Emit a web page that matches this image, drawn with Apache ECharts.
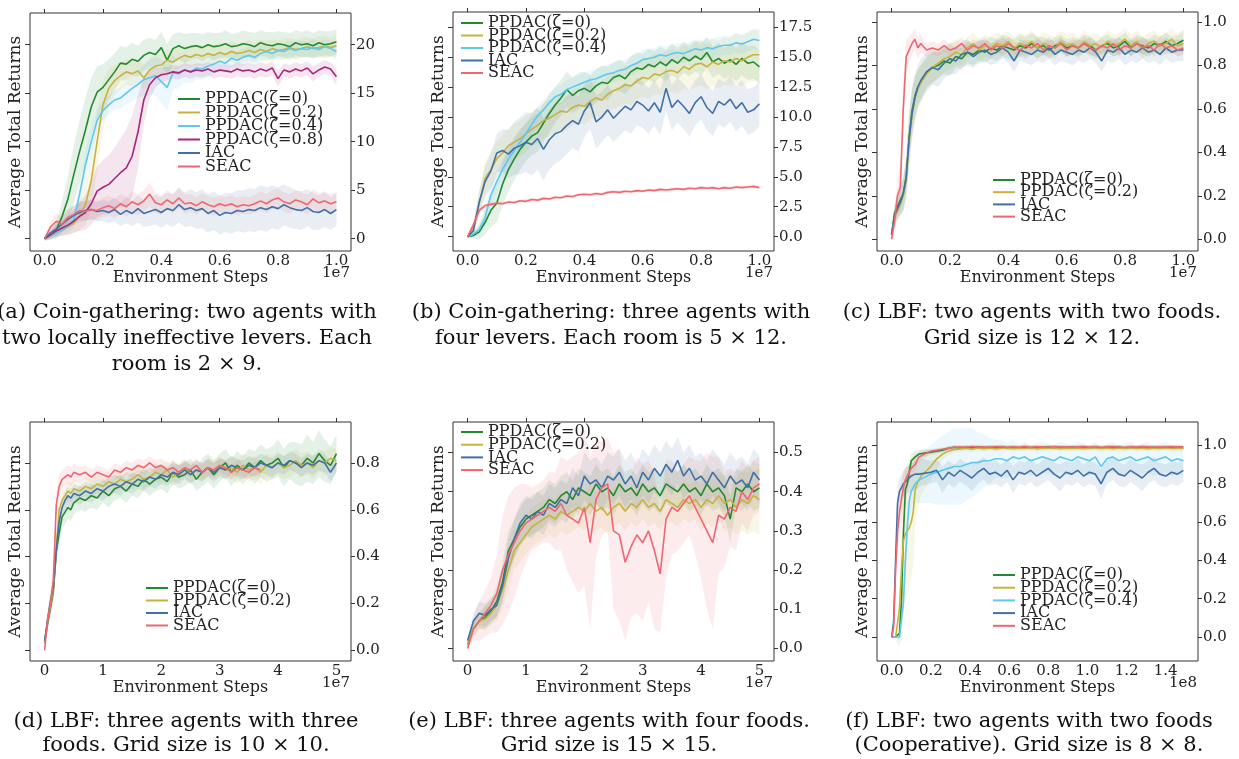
<!DOCTYPE html>
<html><head><meta charset="utf-8">
<script src="https://cdn.jsdelivr.net/npm/echarts@6/dist/echarts.min.js"></script>
<style>html,body{margin:0;padding:0;background:#fff}#c{width:1239px;height:759px}</style>
</head><body><div id="c"></div>
<script>
// ---------- names, colours ----------
const N0 = 'PPDAC(ζ=0)', N2 = 'PPDAC(ζ=0.2)', N4 = 'PPDAC(ζ=0.4)', N8 = 'PPDAC(ζ=0.8)', NI = 'IAC', NS = 'SEAC';
const COLORS = {};
COLORS[N0] = '#228a2e'; COLORS[N2] = '#c7b23d'; COLORS[N4] = '#5fc8ee';
COLORS[N8] = '#a5287b'; COLORS[NI] = '#3f70a8'; COLORS[NS] = '#f0656f';

// ---------- x sample positions (environment steps, in axis units) ----------
function range(start, step, n) { const r = []; for (let i = 0; i < n; i++) r.push(+(start + i * step).toFixed(4)); return r; }
const xA = range(0, 0.02, 51);
const xB = range(0, 0.02, 51);
const xC = range(0, 0.01, 11).concat(range(0.12, 0.02, 45));
const xD = range(0, 0.05, 11).concat(range(0.6, 0.1, 45));
const xE = range(0, 0.1, 51);
const xF = range(0, 0.01, 16).concat(range(0.2, 0.03, 44));

// ---------- tick labels ----------
const xTicks01 = [0, 0.2, 0.4, 0.6, 0.8, 1.0];
const xTicks05 = [0, 1, 2, 3, 4, 5];
const xTicksF = [0, 0.2, 0.4, 0.6, 0.8, 1.0, 1.2, 1.4];
const yTicksA = [0, 5, 10, 15, 20];
const yTicksB = [0, 2.5, 5, 7.5, 10, 12.5, 15, 17.5];
const yTicksC = [0, 0.2, 0.4, 0.6, 0.8, 1.0];
const yTicksD = [0, 0.2, 0.4, 0.6, 0.8];
const yTicksE = [0, 0.1, 0.2, 0.3, 0.4, 0.5];
const yTicksF = [0, 0.2, 0.4, 0.6, 0.8, 1.0];

// ---------- panel (a) ----------
const aG = [0,0.3,0.9,2.3,4.1, 6.6,9.0,11.2,13.6,15.1, 15.6,16.4,17.2,18.1,18.0, 18.5,18.3,18.9,19.2,19.0, 19.7,18.4,19.6,19.9,19.6, 19.8,19.9,19.7,20.0,19.8, 19.9,20.1,19.8,19.9,20.1, 20.0,19.8,20.2,20.0,19.9, 20.1,20.0,19.8,20.2,20.0, 20.1,19.9,20.2,20.0,20.1, 20.3];
const aGs = [0.2,0.4,0.9,1.6,2.4, 3.0,3.2,3.3,3.0,2.7, 2.4,2.1,1.9,1.8,1.7, 1.7,1.6,1.6,1.5,1.5, 1.6,1.7,1.5,1.4,1.5, 1.4,1.3,1.4,1.3,1.4, 1.3,1.4,1.3,1.3,1.4, 1.3,1.4,1.3,1.3,1.4, 1.3,1.3,1.4,1.3,1.3, 1.4,1.3,1.3,1.4,1.3, 1.3];
const aY = [0,0.3,0.6,0.9,1.2, 1.6,2.4,3.5,6.0,10.0, 13.8,15.5,16.3,16.8,17.2, 17.0,17.3,16.6,17.4,17.8, 17.9,18.4,18.2,18.6,18.9, 18.7,19.0,18.8,19.1,18.9, 19.2,19.0,19.3,19.1,19.2, 19.4,19.2,19.5,19.3,19.6, 19.4,19.5,19.7,19.5,19.6, 19.8,19.6,19.7,19.9,19.7, 19.9];
const aYs = [0.2,0.4,0.5,0.6,0.8, 1.0,1.5,2.2,2.8,3.0, 2.6,2.0,1.6,1.4,1.3, 1.3,1.2,1.3,1.2,1.1, 1.1,1.1,1.0,1.1,1.0, 1.0,1.1,1.0,1.0,1.1, 1.0,1.0,1.1,1.0,1.0, 1.1,1.0,1.0,1.1,1.0, 1.0,1.1,1.0,1.0,1.1, 1.0,1.0,1.1,1.0,1.0, 1.1];
const aL = [0,0.3,0.6,0.9,1.3, 1.9,4.6,7.6,10.0,12.2, 13.2,13.8,14.3,14.5,15.0, 15.5,15.9,16.4,16.6,16.8, 16.2,15.6,17.1,17.0,17.4, 17.2,17.6,17.5,17.8,18.0, 18.3,18.1,18.6,18.4,18.7, 18.9,18.7,19.1,19.3,19.1, 19.4,19.3,19.6,19.4,19.6, 19.5,19.7,19.5,19.8,19.6, 19.3];
const aLs = [0.2,0.3,0.4,0.5,0.6, 0.8,1.2,1.5,1.5,1.2, 1.0,1.0,1.0,1.1,1.2, 1.3,1.4,1.6,1.8,2.0, 2.2,2.4,1.8,1.5,1.3, 1.2,1.2,1.1,1.1,1.0, 1.0,1.0,0.9,0.9,0.9, 0.9,0.9,0.8,0.8,0.8, 0.8,0.8,0.8,0.9,0.8, 0.8,0.9,0.8,0.8,0.8, 0.9];
const aP = [0,0.4,0.8,1.1,1.4, 1.8,2.3,2.7,3.6,4.9, 5.3,5.6,6.2,6.8,7.3, 8.5,11.0,14.3,15.9,16.6, 16.9,17.0,17.2,17.1,17.4, 17.2,17.4,17.3,17.5,17.2, 17.4,17.3,17.2,17.5,17.3, 17.4,17.2,17.5,17.3,17.6, 16.5,17.4,17.2,17.5,17.3, 17.6,17.0,17.4,17.7,17.5, 16.7];
const aPs = [0.2,0.4,0.6,0.8,1.0, 1.2,1.5,1.8,2.2,2.6, 2.8,3.0,3.2,3.5,4.0, 4.2,3.8,2.5,1.5,1.0, 0.8,0.7,0.7,0.7,0.7, 0.7,0.7,0.7,0.7,0.7, 0.7,0.7,0.7,0.7,0.7, 0.7,0.7,0.7,0.7,0.7, 0.8,0.7,0.7,0.7,0.7, 0.7,0.8,0.7,0.7,0.7, 0.9];
const aI = [0,0.6,1.0,1.5,2.0, 2.4,2.7,2.9,3.0,2.8, 2.9,2.7,3.0,2.5,2.9, 2.6,3.1,2.6,2.8,3.0, 2.7,3.1,2.9,3.5,3.0, 3.2,2.9,3.1,2.6,2.9, 2.4,2.7,2.6,2.9,2.8, 3.0,2.9,3.2,3.0,3.3, 3.1,3.5,3.2,3.0,2.9, 3.2,2.8,2.7,3.0,2.6, 3.0];
const aIs = [0.1,0.4,0.6,0.8,0.9, 1.0,1.0,1.0,1.0,1.0, 1.1,1.1,1.2,1.2,1.3, 1.3,1.4,1.4,1.5,1.5, 1.6,1.6,1.7,1.8,1.8, 1.9,1.9,2.0,2.0,2.0, 2.0,2.0,2.1,2.1,2.2, 2.2,2.2,2.3,2.3,2.2, 2.2,2.1,2.1,2.0,2.0, 1.9,1.9,1.8,1.8,1.7, 1.7];
const aS = [0,1.2,1.8,1.5,2.2, 2.5,2.9,2.8,3.0,2.9, 3.2,3.4,3.1,3.6,3.3, 3.8,3.5,3.9,4.6,3.7, 3.5,4.0,3.6,4.2,3.6, 3.7,3.4,3.8,3.5,3.3, 3.6,3.4,3.6,3.3,3.5, 3.4,3.6,3.9,3.6,4.0, 4.2,3.8,3.6,4.0,3.8, 3.5,4.1,3.7,3.9,3.6, 3.8];
const aSs = [0.1,0.6,0.8,0.8,0.9, 0.9,1.0,1.0,1.0,1.0, 1.0,1.0,1.0,1.0,1.0, 1.1,1.1,1.1,1.2,1.1, 1.0,1.0,1.0,1.0,1.0, 0.9,0.9,0.9,0.9,0.9, 0.9,0.9,0.9,0.9,0.9, 0.9,0.9,1.0,1.0,1.0, 1.0,1.0,1.0,1.0,1.0, 1.0,1.0,1.0,1.0,1.0, 1.0];

// ---------- panel (b) ----------
const bG = [0,0.1,0.4,1.2,2.2, 2.8,4.4,5.6,6.5,7.3, 7.9,8.4,8.7,9.5,10.3, 11.0,11.6,12.3,11.8,12.2, 12.4,12.1,12.6,12.9,12.8, 13.3,13.5,13.2,13.8,14.1, 14.0,14.4,14.2,14.6,14.3, 14.8,14.5,15.0,14.7,15.1, 14.8,15.4,14.6,14.9,14.5, 14.8,14.4,14.9,14.5,14.6, 14.2];
const bGs = [0.1,0.3,0.6,1.0,1.4, 1.6,1.8,1.8,1.8,1.7, 1.6,1.6,1.6,1.6,1.6, 1.5,1.5,1.5,1.5,1.5, 1.4,1.4,1.4,1.4,1.4, 1.3,1.3,1.3,1.3,1.3, 1.3,1.3,1.3,1.3,1.3, 1.3,1.3,1.3,1.3,1.3, 1.3,1.3,1.3,1.3,1.3, 1.4,1.4,1.4,1.4,1.4, 1.4];
const bY = [0,0.8,2.8,4.9,5.6, 6.5,7.0,7.6,7.9,8.2, 8.6,9.0,9.3,9.7,9.9, 10.2,10.5,10.4,10.8,11.0, 10.9,11.3,11.6,11.4,11.9, 12.2,12.4,12.7,12.6,13.0, 13.3,13.2,13.6,13.5,13.8, 13.9,13.7,14.2,14.0,14.4, 14.5,14.2,14.6,14.4,14.7, 14.6,14.9,14.7,15.0,15.2, 15.2];
const bYs = [0.1,0.5,1.0,1.3,1.5, 1.5,1.5,1.5,1.5,1.5, 1.5,1.5,1.5,1.5,1.5, 1.5,1.5,1.5,1.5,1.5, 1.5,1.5,1.5,1.5,1.5, 1.5,1.5,1.6,1.6,1.6, 1.6,1.7,1.7,1.7,1.7, 1.8,1.8,1.8,1.8,1.9, 1.9,1.9,2.0,2.0,2.0, 2.0,2.1,2.1,2.1,2.2, 2.2];
const bL = [0,0.2,0.6,1.6,3.5, 4.6,5.6,6.5,7.2,7.9, 8.6,9.4,10.1,10.6,11.2, 11.7,11.9,12.3,12.5,12.7, 12.9,13.1,13.2,13.4,13.6, 13.7,13.9,14.0,14.3,14.5, 14.8,14.9,15.0,15.2,15.1, 15.3,15.4,15.3,15.5,15.7, 15.6,15.8,15.7,15.9,16.0, 16.0,16.2,16.1,16.3,16.5, 16.4];
const bLs = [0.1,0.2,0.5,0.8,0.9, 0.9,0.9,0.9,0.9,0.9, 0.9,0.9,0.8,0.8,0.8, 0.8,0.8,0.8,0.8,0.8, 0.8,0.8,0.8,0.8,0.8, 0.8,0.8,0.8,0.8,0.8, 0.8,0.8,0.8,0.8,0.8, 0.8,0.8,0.8,0.8,0.8, 0.8,0.8,0.8,0.8,0.8, 0.8,0.8,0.8,0.8,0.8, 0.8];
const bI = [0,0.5,2.9,4.6,5.5, 7.0,7.2,6.9,7.4,7.6, 7.9,7.7,8.2,7.3,8.1, 8.6,8.8,9.3,9.7,9.4, 10.5,11.2,9.6,10.0,10.6, 9.9,10.4,10.9,10.6,11.3, 11.0,10.5,11.2,10.4,12.4, 10.8,11.4,10.9,10.3,11.2, 11.7,10.8,10.3,11.3,11.0, 11.5,10.7,11.2,10.4,10.6, 11.1];
const bIs = [0.1,0.5,1.0,1.3,1.5, 1.6,1.8,2.0,2.2,2.4, 2.5,2.6,2.6,2.6,2.5, 2.5,2.4,2.4,2.3,2.3, 2.2,2.2,2.2,2.1,2.1, 2.0,2.0,2.0,2.0,2.0, 1.9,1.9,1.9,1.9,1.9, 1.9,1.9,1.9,1.9,1.9, 1.9,1.9,1.9,1.9,1.9, 1.9,1.9,1.9,1.9,1.9, 1.9];
const bS = [0,1.0,2.2,2.6,2.7, 2.8,2.75,2.9,2.85,3.0, 2.95,3.1,3.05,3.2,3.15, 3.3,3.25,3.4,3.35,3.5, 3.55,3.5,3.6,3.55,3.7, 3.75,3.7,3.8,3.75,3.85, 3.8,3.9,3.85,3.95,3.9, 3.95,4.0,3.95,4.05,4.0, 4.1,4.05,4.1,4.0,4.1, 4.05,4.15,4.1,4.15,4.2, 4.1];
const bSs = [0,0.15,0.2,0.2,0.15, 0.15,0.15,0.15,0.15,0.15, 0.15,0.15,0.15,0.15,0.15, 0.15,0.15,0.15,0.15,0.15, 0.15,0.15,0.15,0.15,0.15, 0.15,0.15,0.15,0.15,0.15, 0.15,0.15,0.15,0.15,0.15, 0.15,0.15,0.15,0.15,0.15, 0.15,0.15,0.15,0.15,0.15, 0.15,0.15,0.15,0.15,0.15, 0.15];

// ---------- panel (c) ----------
const cG = [0.02,0.12,0.15,0.18,0.21, 0.29,0.47,0.59,0.66,0.70, 0.72, 0.77,0.79,0.80,0.82,0.81, 0.84,0.83,0.86,0.85,0.87, 0.86,0.88,0.87,0.89,0.88, 0.87,0.89,0.88,0.90,0.88, 0.89,0.87,0.89,0.90,0.88, 0.89,0.88,0.90,0.89,0.87, 0.89,0.90,0.88,0.89,0.91, 0.88,0.90,0.89,0.88,0.90, 0.89,0.91,0.89,0.90,0.915];
const cGs = [0.02,0.04,0.05,0.06,0.07, 0.08,0.10,0.10,0.09,0.08, 0.08, 0.07,0.07,0.06,0.06,0.06, 0.05,0.05,0.05,0.05,0.05, 0.05,0.05,0.05,0.05,0.05, 0.05,0.05,0.05,0.05,0.05, 0.04,0.04,0.04,0.04,0.04, 0.04,0.04,0.04,0.04,0.04, 0.04,0.04,0.04,0.04,0.04, 0.04,0.04,0.04,0.04,0.04, 0.04,0.04,0.04,0.04,0.05];
const cY = [0.02,0.10,0.13,0.16,0.20, 0.27,0.45,0.57,0.65,0.69, 0.72, 0.76,0.79,0.81,0.83,0.84, 0.86,0.85,0.88,0.90,0.87, 0.89,0.88,0.90,0.89,0.91, 0.88,0.90,0.89,0.91,0.88, 0.90,0.89,0.88,0.91,0.89, 0.90,0.88,0.91,0.89,0.90, 0.88,0.91,0.89,0.90,0.92, 0.89,0.91,0.88,0.90,0.91, 0.89,0.90,0.92,0.89,0.90];
const cYs = [0.02,0.04,0.05,0.06,0.08, 0.09,0.11,0.11,0.10,0.09, 0.08, 0.07,0.07,0.07,0.06,0.06, 0.06,0.05,0.05,0.05,0.05, 0.05,0.05,0.05,0.05,0.05, 0.05,0.05,0.05,0.05,0.05, 0.05,0.05,0.05,0.05,0.05, 0.05,0.05,0.05,0.05,0.05, 0.05,0.05,0.05,0.05,0.05, 0.05,0.05,0.05,0.05,0.05, 0.05,0.05,0.05,0.05,0.05];
const cI = [0.02,0.11,0.14,0.17,0.21, 0.28,0.46,0.58,0.65,0.70, 0.73, 0.77,0.79,0.78,0.81,0.83, 0.82,0.85,0.86,0.84,0.86, 0.87,0.85,0.86,0.88,0.86, 0.82,0.87,0.86,0.85,0.87, 0.86,0.88,0.85,0.87,0.86, 0.85,0.87,0.86,0.88,0.86, 0.82,0.87,0.86,0.88,0.85, 0.87,0.86,0.88,0.86,0.87, 0.85,0.88,0.86,0.87,0.87];
const cIs = [0.02,0.04,0.05,0.06,0.08, 0.10,0.12,0.12,0.11,0.10, 0.10, 0.09,0.08,0.08,0.07,0.07, 0.06,0.06,0.06,0.05,0.05, 0.05,0.05,0.05,0.05,0.05, 0.05,0.05,0.05,0.05,0.05, 0.05,0.05,0.05,0.05,0.05, 0.05,0.05,0.05,0.05,0.05, 0.05,0.05,0.05,0.05,0.05, 0.05,0.05,0.05,0.05,0.05, 0.05,0.05,0.05,0.05,0.05];
const cS = [0,0.08,0.20,0.24,0.60, 0.84,0.87,0.90,0.92,0.88, 0.90, 0.87,0.88,0.87,0.89,0.87, 0.88,0.90,0.87,0.89,0.88, 0.90,0.87,0.89,0.88,0.90, 0.88,0.87,0.89,0.88,0.90, 0.87,0.89,0.88,0.90,0.87, 0.89,0.88,0.90,0.88,0.87, 0.89,0.88,0.90,0.87,0.89, 0.88,0.90,0.88,0.89,0.87, 0.90,0.88,0.89,0.87,0.88];
const cSs = [0,0.05,0.08,0.10,0.14, 0.08,0.06,0.05,0.05,0.05, 0.04, 0.03,0.03,0.03,0.03,0.03, 0.03,0.03,0.03,0.03,0.03, 0.03,0.03,0.03,0.03,0.03, 0.03,0.03,0.03,0.03,0.03, 0.03,0.03,0.03,0.03,0.03, 0.03,0.03,0.03,0.03,0.03, 0.03,0.03,0.03,0.03,0.03, 0.03,0.03,0.03,0.03,0.03, 0.03,0.03,0.03,0.03,0.03];

// ---------- panel (d) ----------
const dG = [0.03,0.11,0.18,0.25,0.42, 0.50,0.57,0.59,0.61,0.60, 0.63, 0.65,0.64,0.66,0.65,0.68, 0.66,0.69,0.70,0.68,0.71, 0.70,0.73,0.71,0.73,0.74, 0.72,0.76,0.74,0.75,0.77, 0.73,0.76,0.78,0.75,0.78, 0.80,0.76,0.79,0.77,0.80, 0.78,0.81,0.79,0.80,0.82, 0.78,0.81,0.80,0.79,0.82, 0.80,0.84,0.81,0.79,0.84];
const dGs = [0.01,0.03,0.04,0.05,0.06, 0.06,0.05,0.05,0.05,0.05, 0.05, 0.05,0.05,0.05,0.05,0.05, 0.05,0.05,0.05,0.05,0.05, 0.05,0.05,0.05,0.05,0.05, 0.05,0.05,0.05,0.05,0.05, 0.05,0.06,0.06,0.06,0.06, 0.06,0.06,0.06,0.06,0.06, 0.07,0.07,0.07,0.07,0.08, 0.08,0.08,0.09,0.09,0.10, 0.09,0.10,0.09,0.08,0.08];
const dY = [0.03,0.12,0.19,0.26,0.44, 0.60,0.64,0.66,0.68,0.67, 0.69, 0.68,0.70,0.69,0.71,0.70, 0.72,0.71,0.73,0.72,0.73, 0.75,0.73,0.74,0.76,0.75, 0.77,0.74,0.76,0.78,0.75, 0.77,0.76,0.78,0.77,0.79, 0.77,0.78,0.76,0.79,0.77, 0.78,0.76,0.79,0.78,0.80, 0.78,0.79,0.81,0.79,0.80, 0.78,0.81,0.80,0.82,0.81];
const dYs = [0.01,0.03,0.04,0.05,0.06, 0.05,0.04,0.04,0.04,0.04, 0.04, 0.04,0.04,0.04,0.04,0.04, 0.04,0.04,0.04,0.04,0.04, 0.04,0.04,0.04,0.04,0.04, 0.04,0.04,0.04,0.04,0.04, 0.04,0.04,0.04,0.04,0.04, 0.04,0.05,0.05,0.05,0.05, 0.05,0.05,0.05,0.05,0.05, 0.05,0.05,0.05,0.05,0.05, 0.05,0.05,0.05,0.05,0.05];
const dI = [0.04,0.13,0.21,0.27,0.43, 0.55,0.61,0.64,0.66,0.65, 0.67, 0.66,0.68,0.67,0.69,0.68, 0.70,0.71,0.70,0.72,0.71, 0.73,0.72,0.74,0.73,0.75, 0.74,0.76,0.75,0.77,0.75, 0.77,0.76,0.78,0.76,0.78, 0.77,0.79,0.78,0.77,0.79, 0.78,0.80,0.79,0.78,0.80, 0.79,0.81,0.80,0.78,0.80, 0.79,0.81,0.80,0.76,0.80];
const dIs = [0.01,0.03,0.04,0.04,0.05, 0.04,0.04,0.04,0.04,0.04, 0.04, 0.04,0.04,0.04,0.04,0.04, 0.04,0.04,0.04,0.04,0.04, 0.04,0.04,0.04,0.04,0.04, 0.04,0.04,0.04,0.04,0.04, 0.04,0.04,0.04,0.04,0.04, 0.04,0.04,0.04,0.04,0.04, 0.04,0.04,0.04,0.04,0.04, 0.04,0.04,0.04,0.04,0.04, 0.04,0.04,0.04,0.04,0.04];
const dS = [0,0.13,0.20,0.30,0.62, 0.70,0.73,0.74,0.75,0.74, 0.76, 0.75,0.76,0.74,0.76,0.75, 0.74,0.77,0.76,0.78,0.77, 0.79,0.78,0.80,0.78,0.79, 0.77,0.78,0.76,0.78,0.77, 0.79,0.76,0.78,0.77,0.79, 0.78,0.76,0.78,0.77,0.76, 0.78,0.77];
const dSs = [0,0.03,0.05,0.06,0.06, 0.05,0.04,0.04,0.04,0.04, 0.04, 0.03,0.03,0.03,0.03,0.03, 0.03,0.03,0.03,0.03,0.03, 0.03,0.03,0.03,0.03,0.03, 0.03,0.03,0.03,0.03,0.03, 0.03,0.03,0.03,0.03,0.03, 0.03,0.03,0.03,0.03,0.03, 0.03,0.03];

// ---------- panel (e) ----------
const eG = [0.01,0.05,0.07,0.08,0.095, 0.12,0.17,0.25,0.28,0.31, 0.33,0.34,0.35,0.36,0.38, 0.37,0.39,0.40,0.38,0.41, 0.40,0.39,0.42,0.40,0.41, 0.39,0.42,0.40,0.41,0.39, 0.42,0.40,0.41,0.39,0.42, 0.41,0.40,0.42,0.40,0.41, 0.39,0.42,0.40,0.41,0.39, 0.33,0.41,0.40,0.42,0.40, 0.41];
const eGs = [0.01,0.02,0.02,0.03,0.03, 0.04,0.05,0.05,0.05,0.05, 0.05,0.05,0.05,0.05,0.05, 0.05,0.05,0.05,0.05,0.05, 0.05,0.05,0.05,0.05,0.05, 0.05,0.05,0.05,0.05,0.05, 0.05,0.05,0.05,0.05,0.05, 0.05,0.05,0.05,0.05,0.05, 0.05,0.05,0.05,0.05,0.05, 0.06,0.05,0.05,0.05,0.05, 0.05];
const eY = [0.01,0.05,0.07,0.075,0.09, 0.11,0.15,0.20,0.25,0.27, 0.29,0.31,0.32,0.33,0.34, 0.33,0.35,0.34,0.35,0.36, 0.35,0.37,0.35,0.36,0.34, 0.36,0.37,0.35,0.37,0.36, 0.38,0.36,0.37,0.35,0.38, 0.37,0.36,0.38,0.37,0.38, 0.36,0.38,0.37,0.39,0.37, 0.38,0.36,0.38,0.37,0.39, 0.38];
const eYs = [0.01,0.02,0.02,0.03,0.03, 0.04,0.05,0.05,0.05,0.05, 0.05,0.05,0.05,0.05,0.05, 0.05,0.05,0.05,0.05,0.05, 0.05,0.05,0.05,0.05,0.05, 0.05,0.05,0.05,0.05,0.05, 0.05,0.05,0.05,0.05,0.05, 0.05,0.05,0.05,0.05,0.05, 0.06,0.06,0.06,0.06,0.07, 0.07,0.07,0.08,0.08,0.09, 0.09];
const eI = [0.02,0.07,0.09,0.085,0.10, 0.11,0.16,0.23,0.28,0.32, 0.34,0.33,0.35,0.34,0.37, 0.36,0.38,0.37,0.41,0.39, 0.44,0.42,0.43,0.41,0.44, 0.43,0.45,0.42,0.44,0.41, 0.45,0.43,0.46,0.44,0.47, 0.45,0.48,0.44,0.46,0.43, 0.44,0.42,0.45,0.43,0.41, 0.44,0.42,0.43,0.41,0.45, 0.43];
const eIs = [0.01,0.02,0.03,0.03,0.03, 0.03,0.04,0.05,0.05,0.05, 0.05,0.05,0.05,0.05,0.05, 0.05,0.05,0.05,0.05,0.05, 0.06,0.06,0.06,0.06,0.06, 0.06,0.06,0.06,0.06,0.06, 0.06,0.06,0.06,0.06,0.06, 0.06,0.06,0.06,0.06,0.06, 0.06,0.06,0.06,0.06,0.06, 0.06,0.06,0.06,0.06,0.06, 0.06];
const eS = [0,0.05,0.07,0.09,0.11, 0.14,0.20,0.24,0.27,0.30, 0.32,0.33,0.34,0.35,0.36, 0.35,0.37,0.34,0.33,0.32, 0.36,0.27,0.38,0.41,0.42, 0.30,0.29,0.22,0.26,0.29, 0.27,0.30,0.25,0.19,0.33, 0.36,0.35,0.37,0.39,0.36, 0.33,0.30,0.27,0.34,0.33, 0.36,0.35,0.40,0.38,0.41, 0.42];
const eSs = [0,0.03,0.05,0.06,0.07, 0.10,0.14,0.15,0.14,0.12, 0.10,0.08,0.08,0.08,0.09, 0.10,0.12,0.14,0.16,0.18, 0.20,0.22,0.15,0.12,0.12, 0.20,0.22,0.20,0.18,0.20, 0.20,0.18,0.20,0.15,0.15, 0.12,0.10,0.10,0.10,0.12, 0.15,0.20,0.22,0.15,0.12, 0.10,0.10,0.08,0.08,0.07, 0.07];

// ---------- panel (f) ----------
const fG = [0,0,0,0,0.02, 0.19,0.54,0.77,0.80,0.86, 0.92,0.93,0.94,0.95,0.955, 0.956, 0.965,0.97,0.975,0.985,0.99, 0.985,0.99,0.988,0.992,0.985, 0.99,0.987,0.992,0.988,0.99, 0.985,0.992,0.988,0.99,0.986, 0.991,0.988,0.99,0.985,0.992, 0.987,0.99,0.988,0.991,0.986, 0.99,0.988,0.992,0.985,0.99, 0.988,0.991,0.987,0.99,0.986, 0.99,0.988,0.985,0.987];
const fGs = [0,0,0,0.01,0.03, 0.10,0.12,0.08,0.06,0.05, 0.04,0.03,0.03,0.02,0.02, 0.02, 0.015,0.012,0.012,0.012,0.012, 0.012,0.012,0.012,0.012,0.012, 0.012,0.012,0.012,0.012,0.012, 0.012,0.012,0.012,0.012,0.012, 0.012,0.012,0.012,0.012,0.012, 0.012,0.012,0.012,0.012,0.012, 0.012,0.012,0.012,0.012,0.012, 0.012,0.012,0.012,0.012,0.012, 0.012,0.012,0.012,0.012];
const fY = [0,0,0,0.01,0.15, 0.35,0.50,0.54,0.55,0.57, 0.60,0.65,0.77,0.80,0.82, 0.84, 0.89,0.93,0.955,0.97,0.978, 0.982,0.985,0.98,0.986,0.983, 0.987,0.982,0.985,0.988,0.983, 0.986,0.984,0.988,0.982,0.986, 0.985,0.988,0.983,0.986,0.984, 0.987,0.983,0.986,0.988,0.984, 0.986,0.983,0.987,0.985,0.988, 0.984,0.986,0.983,0.987,0.985, 0.988,0.984,0.986,0.985];
const fYs = [0,0,0.01,0.05,0.20, 0.30,0.35,0.35,0.34,0.32, 0.30,0.27,0.20,0.15,0.12, 0.10, 0.07,0.05,0.03,0.02,0.02, 0.015,0.015,0.015,0.015,0.015, 0.015,0.015,0.015,0.015,0.015, 0.015,0.015,0.015,0.015,0.015, 0.015,0.015,0.015,0.015,0.015, 0.015,0.015,0.015,0.015,0.015, 0.015,0.015,0.015,0.015,0.015, 0.015,0.015,0.015,0.015,0.015, 0.015,0.015,0.015,0.015];
const fL = [0,0,0,0,0, 0,0.18,0.40,0.58,0.71, 0.76,0.78,0.80,0.81,0.82, 0.83, 0.85,0.86,0.87,0.88,0.89, 0.89,0.90,0.91,0.91,0.92, 0.92,0.93,0.93,0.92,0.94, 0.93,0.94,0.92,0.93,0.94, 0.93,0.92,0.94,0.93,0.92, 0.94,0.93,0.92,0.94,0.89, 0.93,0.94,0.92,0.93,0.94, 0.92,0.93,0.94,0.92,0.93, 0.94,0.92,0.93,0.92];
const fLs = [0,0,0,0,0.02, 0.03,0.08,0.10,0.10,0.10, 0.10,0.10,0.10,0.11,0.12, 0.13, 0.15,0.17,0.18,0.19,0.20, 0.20,0.19,0.18,0.16,0.14, 0.12,0.10,0.10,0.09,0.09, 0.08,0.08,0.08,0.08,0.08, 0.08,0.08,0.08,0.08,0.08, 0.08,0.08,0.08,0.08,0.10, 0.08,0.08,0.08,0.08,0.08, 0.08,0.08,0.08,0.08,0.08, 0.08,0.08,0.08,0.08];
const fI = [0,0.08,0.40,0.70,0.76, 0.78,0.80,0.81,0.82,0.83, 0.84,0.83,0.85,0.84,0.85, 0.86, 0.86,0.87,0.82,0.86,0.84, 0.87,0.85,0.83,0.86,0.88, 0.85,0.86,0.84,0.87,0.82, 0.86,0.85,0.87,0.84,0.86, 0.88,0.85,0.83,0.86,0.85, 0.87,0.84,0.86,0.85,0.80, 0.86,0.88,0.85,0.84,0.87, 0.85,0.83,0.86,0.88,0.85, 0.84,0.86,0.85,0.87];
const fIs = [0,0.04,0.08,0.08,0.07, 0.07,0.07,0.07,0.07,0.07, 0.07,0.07,0.07,0.07,0.07, 0.07, 0.06,0.06,0.07,0.06,0.06, 0.06,0.06,0.07,0.06,0.06, 0.06,0.06,0.06,0.06,0.07, 0.06,0.06,0.06,0.06,0.06, 0.06,0.06,0.07,0.06,0.06, 0.06,0.06,0.06,0.06,0.08, 0.06,0.06,0.06,0.06,0.06, 0.06,0.07,0.06,0.06,0.06, 0.06,0.06,0.06,0.06];
const fS = [0,0.05,0.35,0.55,0.65, 0.72,0.78,0.82,0.84,0.86, 0.88,0.89,0.90,0.92,0.94, 0.95, 0.97,0.975,0.98,0.985,0.99, 0.992,0.99,0.994,0.991,0.993, 0.99,0.994,0.992,0.99,0.993, 0.991,0.994,0.99,0.993,0.992, 0.99,0.994,0.991,0.993,0.99, 0.992,0.994,0.991,0.993,0.99, 0.992,0.994,0.991,0.99,0.993, 0.991,0.994,0.992,0.99,0.993, 0.991,0.994,0.992,0.993];
const fSs = [0,0.04,0.10,0.12,0.12, 0.10,0.08,0.07,0.06,0.05, 0.04,0.04,0.03,0.03,0.03, 0.03, 0.01,0.01,0.01,0.01,0.01, 0.01,0.01,0.01,0.01,0.01, 0.01,0.01,0.01,0.01,0.01, 0.01,0.01,0.01,0.01,0.01, 0.01,0.01,0.01,0.01,0.01, 0.01,0.01,0.01,0.01,0.01, 0.01,0.01,0.01,0.01,0.01, 0.01,0.01,0.01,0.01,0.01, 0.01,0.01,0.01,0.01];

// ---------- captions ----------
const captions = [
  '(a) Coin-gathering: two agents with\ntwo locally ineffective levers. Each\nroom is 2 × 9.',
  '(b) Coin-gathering: three agents with\nfour levers. Each room is 5 × 12.',
  '(c) LBF: two agents with two foods.\nGrid size is 12 × 12.',
  '(d) LBF: three agents with three\nfoods. Grid size is 10 × 10.',
  '(e) LBF: three agents with four foods.\nGrid size is 15 × 15.',
  '(f) LBF: two agents with two foods\n(Cooperative). Grid size is 8 × 8.'
];

// ---------- layout ----------
const FONT = '"DejaVu Serif", serif';
const LEG_FS = 16;
const panels = [
  {box:[30,13,321,238], xr:[-0.05,1.05], yr:[-1.27,23.27], xt:xTicks01, yt:yTicksA, xd:1, yd:0, exp:'1e7', lg:[178,91,13.8],
   series:[[N0,xA,aG,aGs],[N2,xA,aY,aYs],[N4,xA,aL,aLs],[N8,xA,aP,aPs],[NI,xA,aI,aIs],[NS,xA,aS,aSs]]},
  {box:[453,12,321,239], xr:[-0.05,1.05], yr:[-1.2,18.78], xt:xTicks01, yt:yTicksB, xd:1, yd:1, exp:'1e7', lg:[461,15,12.8],
   series:[[N0,xB,bG,bGs],[N2,xB,bY,bYs],[N4,xB,bL,bLs],[NI,xB,bI,bIs],[NS,xB,bS,bSs]]},
  {box:[877,12,321,239], xr:[-0.05,1.05], yr:[-0.054,1.045], xt:xTicks01, yt:yTicksC, xd:1, yd:1, exp:'1e7', lg:[993,172,12.5],
   series:[[N0,xC,cG,cGs],[N2,xC,cY,cYs],[NI,xC,cI,cIs],[NS,xC,cS,cSs]]},
  {box:[30,422,321,239], xr:[-0.25,5.25], yr:[-0.046,0.975], xt:xTicks05, yt:yTicksD, xd:0, yd:1, exp:'1e7', lg:[146,580,12.8],
   series:[[N0,xD,dG,dGs],[N2,xD,dY,dYs],[NI,xD,dI,dIs],[NS,xD,dS,dSs]]},
  {box:[453,422,321,239], xr:[-0.25,5.25], yr:[-0.032,0.578], xt:xTicks05, yt:yTicksE, xd:0, yd:1, exp:'1e7', lg:[461,424,13],
   series:[[N0,xE,eG,eGs],[N2,xE,eY,eYs],[NI,xE,eI,eIs],[NS,xE,eS,eSs]]},
  {box:[877,422,321,239], xr:[-0.075,1.565], yr:[-0.125,1.122], xt:xTicksF, yt:yTicksF, xd:1, yd:1, exp:'1e8', lg:[993,567,13],
   series:[[N0,xF,fG,fGs],[N2,xF,fY,fYs],[N4,xF,fL,fLs],[NI,xF,fI,fIs],[NS,xF,fS,fSs]]}
];
const capPos = [[187,300,26],[611,300,26],[1032,300,26],[186,710,24],[609,710,24],[1029,710,24]];

const option = {animation:false, backgroundColor:'#fff', textStyle:{fontFamily:FONT},
  grid:[], xAxis:[], yAxis:[], series:[], legend:[], graphic:[]};
const TXT = '#222', FRAME = '#333';

panels.forEach((p, k) => {
  const [L, T, W, H] = p.box;
  option.grid.push({left:L, top:T, width:W, height:H, show:true, borderColor:FRAME, borderWidth:1, backgroundColor:'transparent'});
  const common = {gridIndex:k, type:'value', splitLine:{show:false}, axisLine:{show:false, onZero:false}};
  option.xAxis.push(Object.assign({}, common, {position:'bottom', min:p.xr[0], max:p.xr[1],
    axisTick:{show:false},
    axisLabel:{customValues:p.xt, formatter:v => v.toFixed(p.xd), margin:3, color:TXT, fontFamily:FONT, fontSize:15},
    name:'Environment Steps', nameLocation:'middle', nameGap:14,
    nameTextStyle:{color:TXT, fontFamily:FONT, fontSize:16}}));
  option.xAxis.push(Object.assign({}, common, {position:'top', min:p.xr[0], max:p.xr[1],
    axisTick:{show:true, customValues:p.xt, length:4, lineStyle:{color:FRAME, width:1}},
    axisLabel:{show:false}}));
  option.yAxis.push(Object.assign({}, common, {position:'right', min:p.yr[0], max:p.yr[1],
    axisTick:{show:true, customValues:p.yt, length:4, lineStyle:{color:FRAME, width:1}},
    axisLabel:{customValues:p.yt, formatter:v => v.toFixed(p.yd), margin:5, color:TXT, fontFamily:FONT, fontSize:15}}));
  option.yAxis.push(Object.assign({}, common, {position:'left', min:p.yr[0], max:p.yr[1],
    axisTick:{show:true, customValues:p.yt, length:5, lineStyle:{color:FRAME, width:1}},
    axisLabel:{show:false},
    name:'Average Total Returns', nameLocation:'middle', nameRotate:90, nameGap:6,
    nameTextStyle:{color:TXT, fontFamily:FONT, fontSize:17}}));

  // bands first, then lines
  p.series.forEach(([name, xs, ys, ss]) => {
    const color = COLORS[name];
    option.series.push({type:'custom', xAxisIndex:2*k, yAxisIndex:2*k, silent:true, z:1, clip:true,
      data:[[xs[0], ys[0]]],
      renderItem:(params, api) => {
        const up = [], lo = [];
        for (let i = 0; i < ys.length; i++) {
          const s = ss[i] || 0;
          up.push(api.coord([xs[i], ys[i] + s]));
          lo.push(api.coord([xs[i], ys[i] - s]));
        }
        return {type:'polygon', shape:{points: up.concat(lo.reverse())}, style:{fill:color, opacity:0.12}};
      }});
  });
  p.series.forEach(([name, xs, ys]) => {
    const color = COLORS[name];
    option.series.push({type:'line', name:name, xAxisIndex:2*k, yAxisIndex:2*k, z:3, silent:true,
      data: ys.map((v, i) => [xs[i], v]), symbol:'none', showSymbol:false,
      lineStyle:{width:1.6, color:color}, itemStyle:{color:color}});
  });

  option.legend.push({data:p.series.map(s => s[0]), left:p.lg[0], top:p.lg[1], orient:'vertical',
    icon:'rect', itemWidth:22, itemHeight:2, itemGap:p.lg[2] - LEG_FS - 0.3, padding:0, selectedMode:false,
    textStyle:{fontFamily:FONT, fontSize:LEG_FS, color:TXT}});

  // exponent text
  option.graphic.push({type:'text', x:L + W - 1, y:T + H + 15,
    style:{text:p.exp, align:'right', verticalAlign:'top', fontFamily:FONT, fontSize:15, fill:TXT}});
  // caption
  const c = capPos[k];
  option.graphic.push({type:'text', x:c[0], y:c[1],
    style:{text:captions[k], align:'center', verticalAlign:'top', fontFamily:FONT, fontSize:21, lineHeight:c[2], fill:'#111'}});
});

const chart = echarts.init(document.getElementById('c'), null, {renderer:'canvas'});
chart.setOption(option);
</script></body></html>
